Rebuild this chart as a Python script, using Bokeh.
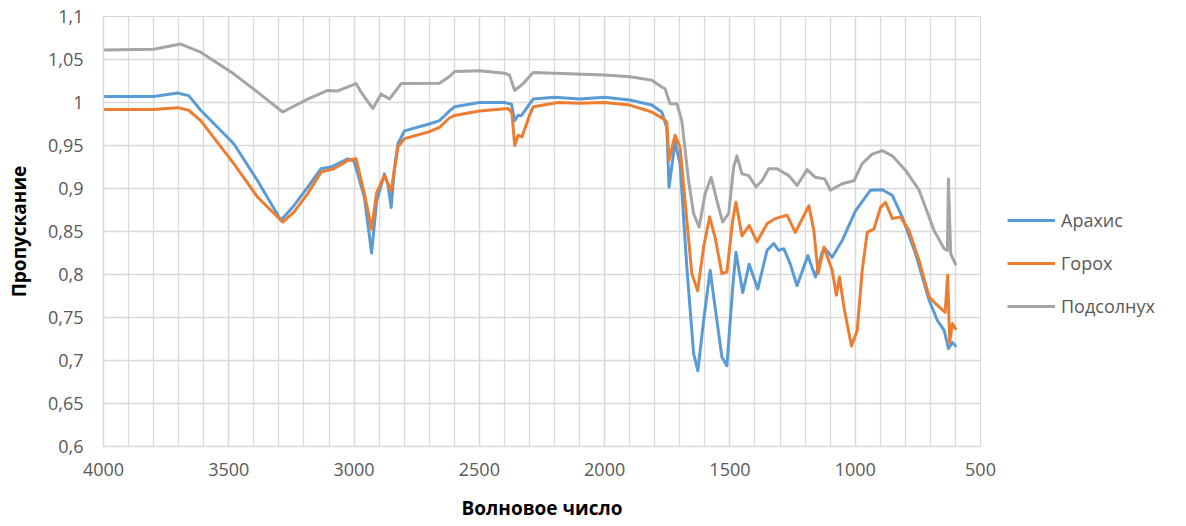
from bokeh.plotting import figure
from bokeh.layouts import row
from bokeh.models import Range1d, FixedTicker, CustomJSTickFormatter, Legend, LegendItem
from bokeh.embed import file_html
from bokeh.resources import INLINE

series_names = ["Арахис", "Горох", "Подсолнух"]
series_colors = ["#5B9BD5", "#ED7D31", "#A5A5A5"]

wn_arachis = [4000, 3800, 3705, 3660, 3612, 3480, 3385, 3292, 3240, 3185, 3132, 3092, 3025, 3000, 2959, 2930,
              2910, 2879, 2865, 2852, 2840, 2825, 2799, 2700, 2659, 2620, 2599, 2500, 2400, 2372, 2359, 2345,
              2332, 2300, 2285, 2200, 2100, 2000, 1900, 1812, 1772, 1752, 1743, 1730, 1719, 1699, 1672, 1645,
              1628, 1605, 1579, 1552, 1532, 1512, 1489, 1476, 1449, 1423, 1389, 1352, 1325, 1305, 1285, 1259,
              1232, 1189, 1159, 1132, 1120, 1092, 1052, 999, 939, 892, 852, 812, 759, 705, 672, 645, 628, 612, 600]
val_arachis = [1.007, 1.007, 1.011, 1.008, 0.991, 0.952, 0.909, 0.863, 0.880, 0.9015, 0.923, 0.925, 0.9345, 0.932, 0.890, 0.825,
               0.885, 0.917, 0.905, 0.878, 0.920, 0.952, 0.967, 0.975, 0.979, 0.990, 0.995, 1.000, 1.000, 0.998, 0.979, 0.985,
               0.985, 0.998, 1.004, 1.006, 1.004, 1.006, 1.003, 0.997, 0.989, 0.971, 0.9015, 0.930, 0.954, 0.929, 0.8085, 0.708,
               0.688, 0.7465, 0.805, 0.7465, 0.704, 0.694, 0.785, 0.826, 0.779, 0.812, 0.783, 0.828, 0.836, 0.828, 0.830, 0.812,
               0.787, 0.822, 0.797, 0.826, 0.830, 0.820, 0.8395, 0.874, 0.898, 0.8985, 0.892, 0.8667, 0.824, 0.770, 0.7465, 0.735, 0.714, 0.721, 0.717]

wn_gorokh = [4000, 3800, 3705, 3660, 3612, 3480, 3385, 3285, 3240, 3185, 3132, 3080, 3025, 2992, 2959, 2930,
             2910, 2879, 2852, 2825, 2799, 2700, 2659, 2620, 2599, 2500, 2385, 2370, 2359, 2345, 2330, 2300,
             2285, 2185, 2100, 2000, 1900, 1812, 1765, 1752, 1743, 1719, 1699, 1672, 1652, 1629, 1605, 1581,
             1559, 1532, 1512, 1489, 1476, 1452, 1423, 1392, 1352, 1319, 1272, 1239, 1185, 1165, 1148, 1125,
             1092, 1075, 1063, 1045, 1015, 992, 972, 952, 925, 899, 879, 852, 819, 785, 745, 705, 672, 641,
             631, 623, 612, 600]
val_gorokh = [0.992, 0.992, 0.994, 0.991, 0.979, 0.929, 0.890, 0.861, 0.8725, 0.894, 0.919, 0.923, 0.9326, 0.9345, 0.894, 0.853,
              0.895, 0.915, 0.897, 0.9485, 0.958, 0.966, 0.971, 0.982, 0.985, 0.990, 0.993, 0.988, 0.950, 0.962, 0.960, 0.985,
              0.995, 1.000, 0.999, 1.000, 0.997, 0.989, 0.981, 0.977, 0.933, 0.962, 0.948, 0.863, 0.801, 0.781, 0.832, 0.867,
              0.843, 0.801, 0.803, 0.863, 0.884, 0.845, 0.857, 0.838, 0.859, 0.865, 0.869, 0.849, 0.880, 0.851, 0.801, 0.832,
              0.805, 0.776, 0.797, 0.762, 0.717, 0.735, 0.805, 0.849, 0.853, 0.878, 0.884, 0.865, 0.867, 0.851, 0.816, 0.774, 0.764, 0.756,
              0.799, 0.721, 0.743, 0.737]

wn_podsolnukh = [4000, 3800, 3692, 3612, 3479, 3385, 3285, 3185, 3105, 3065, 2992, 2972, 2950, 2925, 2892, 2859,
                 2812, 2659, 2620, 2599, 2500, 2400, 2380, 2359, 2325, 2285, 2200, 2000, 1900, 1812, 1772, 1759,
                 1739, 1712, 1692, 1665, 1645, 1623, 1599, 1575, 1552, 1529, 1505, 1485, 1472, 1452, 1425, 1396,
                 1372, 1345, 1312, 1265, 1232, 1192, 1159, 1121, 1099, 1052, 1005, 972, 932, 892, 852, 799,
                 745, 685, 645, 632, 628, 619, 600]
val_podsolnukh = [1.061, 1.062, 1.068, 1.0585, 1.033, 1.012, 0.989, 1.004, 1.014, 1.0135, 1.022, 1.012, 1.003, 0.993, 1.010, 1.004,
                  1.022, 1.0225, 1.030, 1.036, 1.037, 1.034, 1.032, 1.014, 1.022, 1.035, 1.034, 1.032, 1.030, 1.026, 1.018, 1.016,
                  0.9985, 0.9985, 0.979, 0.909, 0.871, 0.855, 0.894, 0.913, 0.886, 0.861, 0.871, 0.925, 0.938, 0.917, 0.915, 0.902,
                  0.909, 0.923, 0.923, 0.915, 0.9035, 0.922, 0.913, 0.911, 0.898, 0.9055, 0.909, 0.929, 0.940, 0.944, 0.938, 0.921,
                  0.898, 0.851, 0.830, 0.828, 0.911, 0.824, 0.812]

x_ticks = [4000, 3500, 3000, 2500, 2000, 1500, 1000, 500]
x_minor = list(range(500, 4001, 100))
y_ticks = [0.6, 0.65, 0.7, 0.75, 0.8, 0.85, 0.9, 0.95, 1.0, 1.05, 1.1]

assert len(wn_arachis) == len(val_arachis), (len(wn_arachis), len(val_arachis))
assert len(wn_gorokh) == len(val_gorokh), (len(wn_gorokh), len(val_gorokh))
assert len(wn_podsolnukh) == len(val_podsolnukh), (len(wn_podsolnukh), len(val_podsolnukh))

FONT = "Open Sans"
TXT = "#595959"
GRID = "#d9d9d9"

p = figure(width=1000, height=526, x_range=Range1d(4000, 500), y_range=Range1d(0.6, 1.1),
           output_backend="svg", toolbar_location=None,
           min_border_left=103, min_border_right=20, min_border_top=16, min_border_bottom=80)
p.outline_line_color = GRID
p.background_fill_color = "white"
p.border_fill_color = "white"

p.xaxis.ticker = FixedTicker(ticks=x_ticks, minor_ticks=x_minor)
p.yaxis.ticker = FixedTicker(ticks=y_ticks)
p.yaxis.formatter = CustomJSTickFormatter(code="""
var s = tick.toFixed(2);
s = s.replace(/0+$/, '').replace(/\\.$/, '');
return s.replace('.', ',');
""")

for ax in (p.xaxis[0], p.yaxis[0]):
    ax.major_tick_line_color = None
    ax.minor_tick_line_color = None
    ax.major_tick_out = 0
    ax.major_tick_in = 0
    ax.minor_tick_out = 0
    ax.minor_tick_in = 0
    ax.axis_line_color = GRID
    ax.axis_line_width = 1.5
    ax.major_label_text_font = FONT
    ax.major_label_text_font_size = "18px"
    ax.major_label_text_color = TXT
    ax.axis_label_text_font = FONT
    ax.axis_label_text_font_size = "19px"
    ax.axis_label_text_font_style = "bold"
    ax.axis_label_text_color = "black"

p.xaxis.axis_label = "Волновое число"
p.yaxis.axis_label = "Пропускание"
p.xaxis.major_label_standoff = 16
p.xaxis.axis_label_standoff = 16
p.yaxis.major_label_standoff = 20
p.yaxis.axis_label_standoff = 13

p.xgrid.grid_line_color = GRID
p.xgrid.grid_line_width = 1.3
p.xgrid.minor_grid_line_color = GRID
p.xgrid.minor_grid_line_width = 1.3
p.ygrid.grid_line_color = GRID
p.ygrid.grid_line_width = 1.3

data = [(wn_arachis, val_arachis), (wn_gorokh, val_gorokh), (wn_podsolnukh, val_podsolnukh)]
for (xs, ys), col in zip(data, series_colors):
    p.line(xs, ys, line_color=col, line_width=3, line_join="round", line_cap="round")

# legend panel on the right (separate canvas so it is not clipped);
# its renderers carry the same series, but its ranges keep them out of view
pl = figure(width=186, height=526, x_range=Range1d(0, 1), y_range=Range1d(0, 1),
            output_backend="svg", toolbar_location=None, x_axis_location=None, y_axis_location=None,
            min_border_left=0, min_border_right=0, min_border_top=0, min_border_bottom=0)
pl.grid.visible = False
pl.outline_line_color = None
pl.background_fill_color = "white"
pl.border_fill_color = "white"
items = []
for (xs, ys), name, col in zip(data, series_names, series_colors):
    r = pl.line(xs, ys, line_color=col, line_width=3)
    items.append(LegendItem(label=name, renderers=[r]))
legend = Legend(items=items, location=(7, 128), border_line_color=None, background_fill_alpha=0,
                glyph_width=48, glyph_height=20, label_height=20, spacing=19, padding=0, margin=0,
                label_standoff=6, label_text_font=FONT, label_text_font_size="18px", label_text_color=TXT)
pl.add_layout(legend, "center")

layout = row(p, pl)
open("out.html", "w").write(file_html(layout, INLINE))
